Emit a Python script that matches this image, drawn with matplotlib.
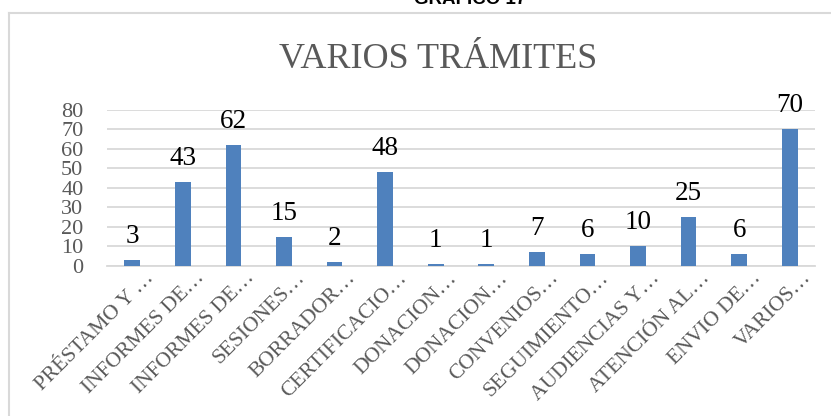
import matplotlib.pyplot as plt
from matplotlib.lines import Line2D
from matplotlib.transforms import ScaledTranslation

categories = ['PRÉSTAMO Y …', 'INFORMES DE…', 'INFORMES DE…', 'SESIONES…',
              'BORRADOR…', 'CERTIFICACIO…', 'DONACION…', 'DONACION…',
              'CONVENIOS…', 'SEGUIMIENTO…', 'AUDIENCIAS Y…', 'ATENCIÓN AL…',
              'ENVIO DE…', 'VARIOS…']
values = [3, 43, 62, 15, 2, 48, 1, 1, 7, 6, 10, 25, 6, 70]
yticks = [0, 10, 20, 30, 40, 50, 60, 70, 80]

serif = 'Liberation Serif'
grey = '#595959'

fig = plt.figure(figsize=(8.31, 4.16), dpi=100)
ax = fig.add_axes([0.1288, 0.3606, 0.852, 0.375])

x = range(len(values))
bars = ax.bar(x, values, width=0.31, color='#4F81BD', zorder=3)
for xi, v in zip(x, values):
    ax.annotate(str(v), (xi, v), xytext=(0, 8), textcoords='offset points',
                ha='center', va='bottom', fontsize=19.5, family=serif, color='black')

ax.set_xlim(-0.5, len(values) - 0.5)
ax.set_ylim(0, 80)
ax.set_yticks(yticks)
ax.set_yticklabels([str(t) for t in yticks], fontsize=16, family=serif, color=grey)
ax.set_xticks(list(x))
ax.set_xticklabels(categories, rotation=45, ha='right', rotation_mode='anchor',
                   fontsize=15.5, family=serif, color=grey)
ax.tick_params(axis='y', length=0, pad=17)
ax.tick_params(axis='x', length=0, pad=4)
shift = ScaledTranslation(12 / 100, 3 / 100, fig.dpi_scale_trans)
for lbl in ax.get_xticklabels():
    lbl.set_transform(lbl.get_transform() + shift)
ax.grid(axis='y', color='#D9D9D9', linewidth=1.3, zorder=0)
for s in ['top', 'right', 'left']:
    ax.spines[s].set_visible(False)
ax.spines['bottom'].set_color('#D9D9D9')
ax.spines['bottom'].set_linewidth(1.3)

fig.text(0.527, 0.858, 'VARIOS TRÁMITES', ha='center', va='center',
         fontsize=26, family=serif, color=grey)
fig.text(0.566, 0.99, 'GRÁFICO 17', ha='center', va='baseline',
         fontsize=13.5, fontweight='bold', family='Liberation Sans', color='black')

# chart frame (cut off by the crop)
fig.add_artist(Line2D([9 / 831, 1], [1 - 13 / 416, 1 - 13 / 416],
                      transform=fig.transFigure, color='#D9D9D9', linewidth=1.5))
fig.add_artist(Line2D([9 / 831, 9 / 831], [0, 1 - 13 / 416],
                      transform=fig.transFigure, color='#D9D9D9', linewidth=1.5))

fig.savefig('out.png', dpi=100)
